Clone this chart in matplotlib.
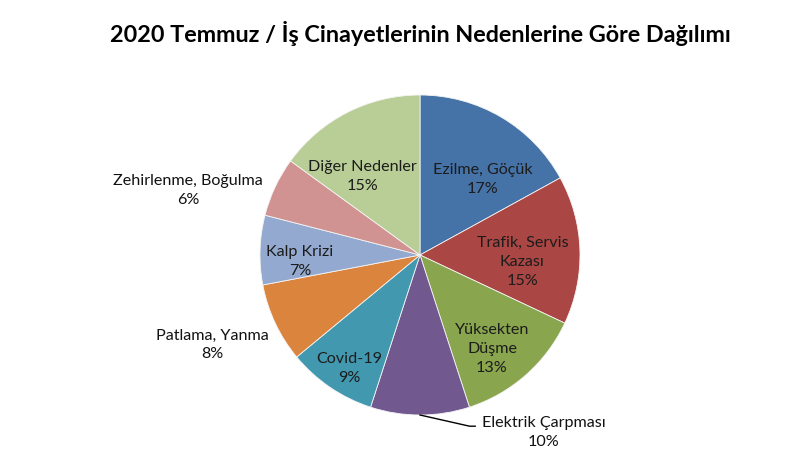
import matplotlib
matplotlib.use("Agg")
import matplotlib.pyplot as plt

# Data
categories = ["Ezilme, Göçük", "Trafik, Servis\nKazası", "Yüksekten\nDüşme",
              "Elektrik Çarpması", "Covid-19", "Patlama, Yanma", "Kalp Krizi",
              "Zehirlenme, Boğulma", "Diğer Nedenler"]
values = [17, 15, 13, 10, 9, 8, 7, 6, 15]
title = "2020 Temmuz / İş Cinayetlerinin Nedenlerine Göre Dağılımı"

# Style
colors = ["#4572A7", "#AA4643", "#89A54E", "#71588F", "#4198AF",
          "#DB843D", "#93A9CF", "#D19392", "#B9CD96"]
# label positions (data units relative to unit pie)
label_pos = [(0.39, 0.47), (0.64, -0.045), (0.45, -0.59), (0.775, -1.112),
             (-0.44, -0.71), (-1.3, -0.5625), (-0.75, -0.04), (-1.45, 0.405),
             (-0.36, 0.49)]
outside = [False, False, False, True, False, True, False, True, False]

plt.rcParams['font.family'] = ['Lato', 'DejaVu Sans']
W, H = 800, 463
fig = plt.figure(figsize=(W / 100, H / 100), dpi=100)
cx, cy, r = 420, 255, 160
ax = fig.add_axes([(cx - r) / W, (H - cy - r) / H, 2 * r / W, 2 * r / H])
wedges, _ = ax.pie(values, startangle=90, counterclock=False, colors=colors,
                   wedgeprops=dict(edgecolor="#f4f4f4", linewidth=0.6))
ax.set_xlim(-1, 1)
ax.set_ylim(-1, 1)
ax.set_aspect("equal")
ax.axis("off")

for cat, v, (x, y), out in zip(categories, values, label_pos, outside):
    ax.text(x, y, f"{cat}\n{v}%", ha="center", va="center", fontsize=11.6,
            linespacing=1.45, color="#111111" if out else "#1c1c1c", clip_on=False)

# leader line for Elektrik Çarpması
ax.plot([0.0, 0.31, 0.345], [-1.0, -1.07, -1.07], color="black", lw=1.0, clip_on=False)

fig.text(420 / W, 1 - 33 / H, title, ha="center", va="center", fontsize=16.8,
         fontweight="bold")
fig.savefig("out.png", dpi=100)
